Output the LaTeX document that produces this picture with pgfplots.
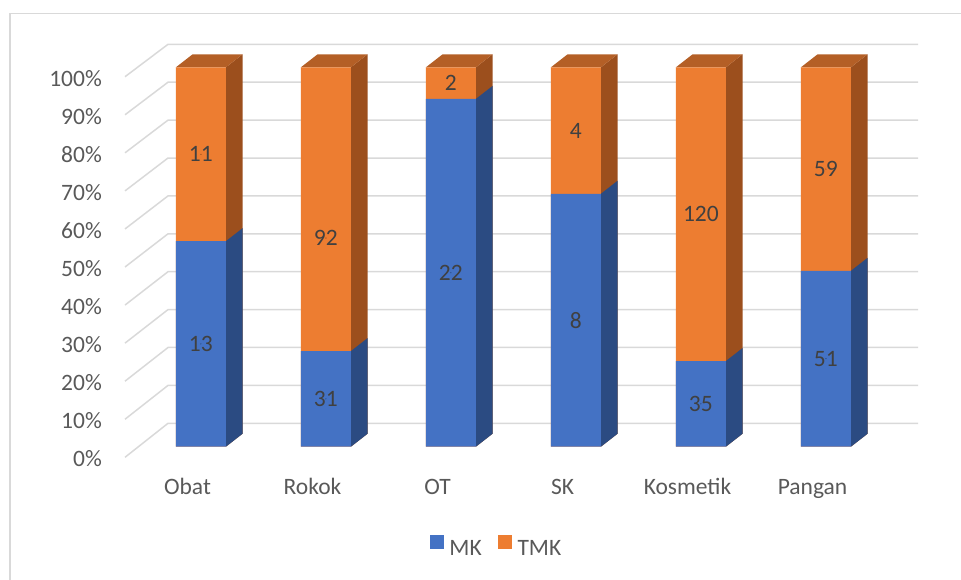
\documentclass[border=0pt]{standalone}
\usepackage{pgfplots}
\pgfplotsset{compat=1.18}
\usepackage{pgfplotstable}
\usepackage{fontspec}
\setmainfont{Carlito}
\definecolor{mkc}{HTML}{4472C4}
\definecolor{mkside}{HTML}{2B4B82}
\definecolor{tmkc}{HTML}{ED7D31}
\definecolor{tmkside}{HTML}{9C4F1D}
\definecolor{tmktop}{HTML}{B45F26}
\definecolor{gridc}{HTML}{D9D9D9}
\definecolor{framec}{HTML}{D9D9D9}
\definecolor{tickc}{HTML}{595959}
\definecolor{lblc}{HTML}{404040}
\newcommand\chartfont{\fontsize{23.5}{28.2}\selectfont}
% mk, tmk: shares in percent; mkn, tmkn: counts shown as labels;
% mkl, tmkl: label heights (percent)
\pgfplotstableread{
x mk tmk mkn tmkn mkl tmkl
0 54.17 45.83 13 11 27.08 77.08
1 25.20 74.80 31 92 12.60 55.00
2 91.67 8.33 22 2 45.83 95.83
3 66.67 33.33 8 4 33.33 83.33
4 22.58 77.42 35 120 11.29 61.29
5 46.36 53.64 51 59 23.18 73.18
}\datatable
\newcommand\ddx{0.1336}
\newcommand\ddy{3.43}
\newcommand\hw{0.2}
\begin{document}
\begin{tikzpicture}
\useasboundingbox (-138.4pt,-132.3pt) rectangle (822.6pt,446.7pt);
\draw[framec, line width=1.5pt] (-128.4pt,-140pt) -- (-128.4pt,433.2pt) -- (830pt,433.2pt);
\begin{axis}[
  at={(0,0)}, anchor=south west,
  width=750pt, height=379.4pt, scale only axis,
  xmin=-0.5, xmax=5.5, ymin=0, ymax=100,
  clip=false,
  axis line style={draw=none},
  major tick length=0pt, tick style={draw=none},
  xtick={0,1,2,3,4,5},
  xticklabels={Obat,Rokok,OT,SK,Kosmetik,Pangan},
  ytick={0,10,20,30,40,50,60,70,80,90,100},
  yticklabels={0\%,10\%,20\%,30\%,40\%,50\%,60\%,70\%,80\%,90\%,100\%},
  xticklabel style={anchor=base, inner sep=0pt, xshift=-13.4pt, yshift=-48pt, text=tickc, font=\chartfont},
  yticklabel style={anchor=base east, inner sep=0pt, xshift=-36.4pt, yshift=-19.4pt, text=tickc, font=\chartfont},
  legend columns=2,
  legend style={at={(axis description cs:0.4761,-0.2617)}, anchor=center, draw=none, fill=none,
    inner sep=0pt, font=\chartfont, text=tickc,
    nodes={inner sep=0pt},
    /tikz/every odd column/.append style={column sep=6pt},
    /tikz/every even column/.append style={column sep=16pt}},
]
% gridlines (side wall + back wall)
\pgfplotsforeachungrouped \v in {0,10,...,100}{
  \pgfmathsetmacro\ya{\v-2.79+0.0031*\v}
  \pgfmathsetmacro\yb{\v+6.17-0.0011*\v}
  \edef\temp{\noexpand\addplot[gridc, line width=1.5pt, forget plot] coordinates {(-0.607,\ya) (-0.263,\yb) (5.737,\yb)};}
  \temp
}
% side and top faces
\pgfplotsforeachungrouped \i in {0,...,5}{
  \pgfplotstablegetelem{\i}{mk}\of\datatable \let\m=\pgfplotsretval
  \pgfmathsetmacro\xr{\i+\hw}
  \pgfmathsetmacro\xrr{\i+\hw+\ddx}
  \pgfmathsetmacro\xl{\i-\hw}
  \pgfmathsetmacro\xlr{\i-\hw+\ddx}
  \pgfmathsetmacro\md{\m+\ddy}
  \pgfmathsetmacro\td{100+\ddy}
  \edef\temp{%
    \noexpand\addplot[fill=tmkside, draw=none, forget plot] coordinates {(\xr,0) (\xrr,\ddy) (\xrr,\td) (\xr,100)};
    \noexpand\addplot[fill=mkside, draw=none, forget plot] coordinates {(\xr,0) (\xrr,\ddy) (\xrr,\md) (\xr,\m)};
    \noexpand\addplot[fill=tmktop, draw=none, forget plot] coordinates {(\xl,100) (\xlr,\td) (\xrr,\td) (\xr,100)};
  }%
  \temp
}
% front faces
\addplot[ybar, bar width=0.4, bar shift=0pt, fill=tmkc, draw=none, forget plot]
  table[x=x, y expr=\thisrow{mk}+\thisrow{tmk}] {\datatable};
\addplot[ybar, bar width=0.4, bar shift=0pt, fill=mkc, draw=none, forget plot]
  table[x=x, y=mk] {\datatable};
% data labels
\addplot[only marks, mark=*, mark size=0.1pt, mark options={draw=none, fill=none},
  point meta=explicit symbolic, nodes near coords,
  every node near coord/.append style={anchor=center, text=lblc, font=\chartfont, inner sep=0pt},
  forget plot]
  table[x=x, y=mkl, meta=mkn] {\datatable};
\addplot[only marks, mark=*, mark size=0.1pt, mark options={draw=none, fill=none},
  point meta=explicit symbolic, nodes near coords,
  every node near coord/.append style={anchor=center, text=lblc, font=\chartfont, inner sep=0pt},
  forget plot]
  table[x=x, y=tmkl, meta=tmkn] {\datatable};
% legend
\addlegendimage{legend image code/.code={\fill[mkc] (0pt,0pt) rectangle (13.4pt,13.4pt);}}
\addlegendentry{MK}
\addlegendimage{legend image code/.code={\fill[tmkc] (0pt,0pt) rectangle (13.4pt,13.4pt);}}
\addlegendentry{TMK}
\end{axis}
\end{tikzpicture}
\end{document}
